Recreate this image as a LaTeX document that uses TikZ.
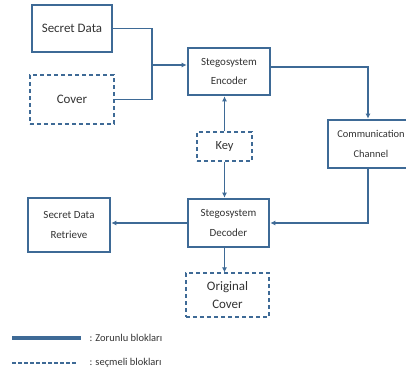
\documentclass[tikz,border=0pt]{standalone}
\usepackage{fontspec}
\setmainfont{Carlito}
\usetikzlibrary{arrows.meta}
\definecolor{stegoblue}{RGB}{62,106,150}
\begin{document}
\begin{tikzpicture}[x=1bp,y=-1bp,
	must/.style={draw=stegoblue,line width=2.6bp,align=center,inner sep=0pt,text=black!80},
	optional/.style={draw=stegoblue,line width=1.1bp,dash pattern=on 4bp off 3bp,align=center,inner sep=0pt,text=black!80},
	flow/.style={draw=stegoblue,line width=1.6bp,-{Latex[length=5bp,width=5bp]}},
	big/.style={font=\fontsize{13}{18}\selectfont},
	small/.style={font=\fontsize{11}{20}\selectfont}]
\useasboundingbox (0,0) rectangle (406,380);
% blocks
\node[must,big,minimum width=80bp,minimum height=47bp] (secret) at (72,28.5) {Secret Data};
\node[optional,big,minimum width=84bp,minimum height=49bp] (cover) at (72,99.5) {Cover};
\node[must,small,minimum width=82bp,minimum height=47bp] (enc) at (229,71.5) {Stegosystem\\Encoder};
\node[optional,font=\fontsize{12.5}{15}\selectfont,minimum width=55bp,minimum height=29bp] (key) at (224.5,146.5) {Key};
\node[must,font=\fontsize{10.5}{20}\selectfont,minimum width=86bp,minimum height=48bp] (chan) at (371,144) {Communication\\Channel};
\node[must,small,minimum width=81bp,minimum height=48bp] (dec) at (228.5,223) {Stegosystem\\Decoder};
\node[must,small,minimum width=82bp,minimum height=54bp] (ret) at (69,225) {Secret Data\\Retrieve};
\node[optional,big,minimum width=83bp,minimum height=44bp] (orig) at (227.5,295) {Original\\Cover};
% connectors
\coordinate (join) at (152,65);
\draw[flow,-] (secret.east) -| (join);
\draw[flow,-] (cover.east) -| (join);
\draw[flow] (join) -- (join -| enc.west);
\draw[flow] ([yshift=4.5bp]enc.east) -| ([xshift=-3bp]chan.north);
\draw[flow] ([xshift=-3bp]chan.south) |- (dec.east);
\draw[flow] (key.north) -- (key.north |- enc.south);
\draw[flow] (key.south) -- (key.south |- dec.north);
\draw[flow] (dec.west) -- (dec.west -| ret.east);
\draw[flow] (key.south |- dec.south) -- (key.south |- orig.north);
% legend
\node[anchor=west,font=\fontsize{10.5}{12}\selectfont,text=black!80] (musttext) at (86,338) {: Zorunlu blokları};
\node[anchor=west,font=\fontsize{10.5}{12}\selectfont,text=black!80] (opttext) at (86,363) {: seçmeli blokları};
\draw[stegoblue,line width=3.5bp] (12,338) -- ([xshift=-5bp]musttext.west);
\draw[stegoblue,line width=1.1bp,dash pattern=on 4bp off 2bp] (12,363) -- ([xshift=-9bp]opttext.west);
\end{tikzpicture}
\end{document}
